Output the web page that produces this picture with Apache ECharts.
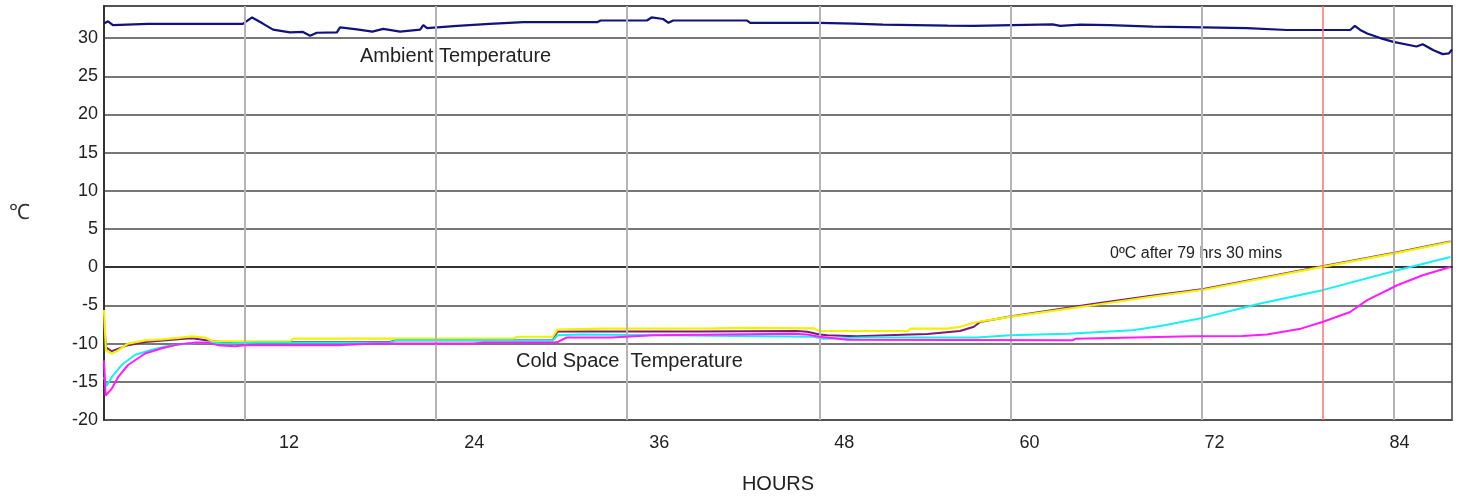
<!DOCTYPE html>
<html>
<head>
<meta charset="utf-8">
<title>Cold space temperature</title>
<script src="https://cdn.jsdelivr.net/npm/echarts@6/dist/echarts.min.js"></script>
<style>
  html, body { margin: 0; padding: 0; background: #fff; }
  #chart { width: 1459px; height: 497px; }
</style>
</head>
<body>
<div id="chart"></div>
<script>
// readings as [hour, °C]
const ambient = [
  [0, 31.9], [0.26, 32.2], [0.58, 31.7], [2.85, 31.85], [9.0, 31.85], [9.6, 32.7], [10.3, 31.9],
  [10.96, 31.1], [12.06, 30.75], [12.9, 30.8], [13.36, 30.3], [13.8, 30.7], [15.1, 30.75],
  [15.3, 31.4], [16.4, 31.15], [17.4, 30.85], [18.1, 31.2], [19.2, 30.85], [20.5, 31.1],
  [20.7, 31.7], [20.95, 31.3], [21.6, 31.4], [22.9, 31.6], [25.0, 31.85], [27.2, 32.1],
  [31.5, 32.1], [32.0, 32.1], [32.2, 32.3], [35.2, 32.3], [35.5, 32.7], [36.25, 32.5],
  [36.6, 32.0], [36.9, 32.3], [41.7, 32.3], [41.9, 32.0], [46.4, 32.0], [48.6, 31.9],
  [50.5, 31.75], [54.7, 31.63], [56.4, 31.6], [58.9, 31.7], [61.5, 31.8], [62.0, 31.6],
  [63.3, 31.75], [65.2, 31.7], [68.0, 31.5], [71.3, 31.4], [74.1, 31.3], [76.7, 31.06],
  [80.8, 31.06], [81.1, 31.6], [81.45, 31.06], [81.9, 30.6], [82.75, 30.0], [83.6, 29.5],
  [85.1, 28.9], [85.5, 29.2], [86.2, 28.4], [86.8, 27.9], [87.2, 28.0], [87.4, 28.5]
]
const coldYellow = [
  [0, -5.6], [0.13, -10.9], [0.5, -11.3], [0.91, -10.9], [1.56, -10.0], [2.66, -9.57],
  [3.76, -9.44], [4.8, -9.26], [5.7, -9.04], [6.55, -9.2], [7.0, -9.66], [8.5, -9.7],
  [12.06, -9.66], [12.3, -9.35], [26.5, -9.35], [26.8, -9.1], [29.1, -9.1], [29.4, -8.17],
  [32.2, -8.04], [39.5, -8.0], [41.7, -7.95], [46.0, -8.0], [46.4, -8.35], [52.1, -8.35],
  [52.3, -8.04], [54.7, -8.04], [55.5, -7.8], [56.6, -7.17], [58.75, -6.5], [64.1, -4.98],
  [67.8, -3.9], [71.3, -2.95], [79.0, 0.04], [83.85, 1.87], [87.3, 3.3]
]
const coldPurple = [
  [0, -7.3], [0.13, -10.5], [0.5, -11.0], [1.56, -10.2], [2.66, -9.8], [4.8, -9.44],
  [5.7, -9.3], [6.75, -9.6], [7.65, -9.8], [18.5, -9.8], [18.9, -9.57], [29.1, -9.57],
  [29.4, -8.4], [38.5, -8.4], [44.9, -8.35], [45.6, -8.45], [46.4, -8.8], [46.9, -8.9],
  [48.8, -9.04], [52.3, -8.8], [53.4, -8.75], [55.5, -8.35], [56.4, -7.8], [56.8, -7.17],
  [58.75, -6.45], [64.1, -4.8], [67.8, -3.75], [71.3, -2.85], [79.0, 0.12], [83.85, 1.95],
  [87.3, 3.38]
]
const coldCyan = [
  [0, -14.4], [0.17, -15.5], [0.5, -14.4], [1.14, -12.8], [2.0, -11.5], [3.1, -10.8],
  [4.15, -10.3], [5.45, -10.0], [6.55, -9.87], [8.04, -10.0], [9.9, -9.87], [18.5, -9.87],
  [19.0, -9.57], [29.1, -9.57], [29.4, -8.9], [30.9, -8.8], [46.0, -9.1], [46.6, -9.35],
  [49.3, -9.2], [56.6, -9.2], [58.75, -8.9], [62.5, -8.7], [66.7, -8.26], [68.5, -7.7],
  [71.3, -6.6], [74.97, -4.76], [79.0, -3.0], [83.85, -0.4], [87.3, 1.35]
]
const coldMagenta = [
  [0, -12.2], [0.11, -16.8], [0.5, -15.9], [0.91, -14.4], [1.56, -12.8], [2.66, -11.3],
  [3.76, -10.6], [4.8, -10.1], [5.9, -9.87], [6.75, -9.9], [7.4, -10.2], [8.5, -10.35],
  [9.1, -10.2], [15.1, -10.2], [17.5, -10.0], [23.9, -10.0], [24.5, -9.87], [29.1, -9.87],
  [29.4, -9.8], [30.0, -9.2], [32.9, -9.2], [35.6, -8.9], [44.7, -8.7], [45.6, -8.8],
  [46.4, -9.1], [48.2, -9.5], [62.8, -9.57], [63.0, -9.35], [70.6, -9.04], [73.8, -9.0],
  [75.4, -8.8], [77.6, -8.04], [79.0, -7.17], [80.8, -5.86], [81.9, -4.3], [83.85, -2.36],
  [85.5, -1.05], [87.3, 0.04]
]
// vertical grid lines of the original sheet (they do not sit on the labelled hours)
const gridHours = [9.1, 21.5, 33.9, 46.4, 58.8, 71.2, 83.6]
const zeroHour = 79.0

const font = 'Liberation Sans, Arial, sans-serif'
const chart = echarts.init(document.getElementById('chart'))

function curve(name, data, color, width, z) {
  return {
    name: name,
    type: 'line',
    data: data,
    showSymbol: false,
    z: z,
    lineStyle: { color: color, width: width },
    itemStyle: { color: color }
  }
}

chart.setOption({
  animation: false,
  textStyle: { fontFamily: font },
  grid: {
    left: 104, right: 7, top: 6, bottom: 77,
    outerBoundsMode: 'none',
    containLabel: false,
    show: true, borderColor: '#6e6e6e', borderWidth: 2
  },
  xAxis: {
    type: 'value',
    min: 0, max: 87.4, interval: 12,
    name: 'HOURS',
    nameLocation: 'middle',
    nameGap: 54,
    nameTextStyle: { fontSize: 20, color: '#222', fontFamily: font },
    axisLine: { lineStyle: { color: '#333', width: 2 } },
    axisTick: { show: false },
    splitLine: { show: false },
    axisLabel: {
      fontSize: 18, color: '#222', margin: 14,
      showMinLabel: false, showMaxLabel: false,
      formatter: v => (v > 0 && v % 12 === 0 ? String(v) : '')
    }
  },
  yAxis: {
    type: 'value',
    min: -20, max: 34.2, interval: 5,
    name: '\u2103',
    nameLocation: 'middle',
    nameRotate: 0,
    nameGap: 74,
    nameTextStyle: { fontSize: 21, color: '#333', fontFamily: font },
    axisLine: { show: true, lineStyle: { color: '#333', width: 2 } },
    axisTick: { show: false },
    splitLine: { lineStyle: { color: '#4a4a4a', width: 1.5 } },
    axisLabel: {
      fontSize: 18, color: '#222', margin: 6,
      showMaxLabel: false,
      formatter: v => (v % 5 === 0 ? String(v) : '')
    }
  },
  series: [
    {
      name: 'grid',
      type: 'line',
      data: [],
      z: 1,
      silent: true,
      markLine: {
        silent: true,
        symbol: 'none',
        label: { show: false },
        lineStyle: { color: '#b4b4b4', width: 2, type: 'solid' },
        data: gridHours.map(h => ({ xAxis: h }))
      }
    },
    curve('Ambient Temperature', ambient, '#12127e', 2.2, 3),
    curve('Purple', coldPurple, '#7a1a7a', 2, 3),
    curve('Yellow', coldYellow, '#f2f200', 2.2, 4),
    curve('Cyan', coldCyan, '#16f0f0', 2, 4),
    curve('Magenta', coldMagenta, '#ff1cff', 2, 5),
    {
      name: 'zero',
      type: 'line',
      data: [],
      z: 6,
      silent: true,
      markLine: {
        silent: true,
        symbol: 'none',
        label: { show: false },
        lineStyle: { color: '#ff7070', width: 1.5, type: 'solid' },
        data: [{ xAxis: zeroHour }]
      }
    }
  ],
  graphic: [
    { type: 'text', left: 360, top: 46, style: { text: 'Ambient Temperature', font: '20px ' + font, fill: '#222' } },
    { type: 'text', left: 516, top: 351, style: { text: 'Cold Space  Temperature', font: '20px ' + font, fill: '#222' } },
    { type: 'text', left: 1110, top: 246, style: { text: '0\u00baC after 79 hrs 30 mins', font: '16px ' + font, fill: '#222' } }
  ]
})
</script>
</body>
</html>
